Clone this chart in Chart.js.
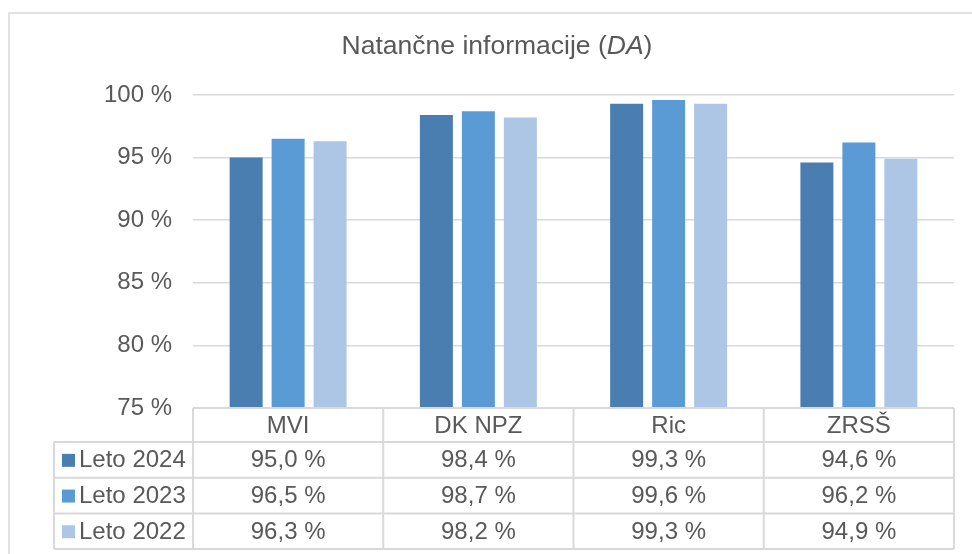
<!DOCTYPE html>
<html>
<head>
<meta charset="utf-8">
<script src="https://cdn.jsdelivr.net/npm/chart.js@4.4.1/dist/chart.umd.min.js"></script>
<style>
html,body{margin:0;padding:0;background:#fff;}
#wrap{position:relative;width:972px;height:554px;}
canvas{display:block;}
</style>
</head>
<body>
<div id="wrap"><canvas id="c" width="972" height="554"></canvas></div>
<script>
const categories = ['MVI', 'DK NPZ', 'Ric', 'ZRSŠ'];
const seriesNames = ['Leto 2024', 'Leto 2023', 'Leto 2022'];
const values2024 = [95.0, 98.4, 99.3, 94.6];
const values2023 = [96.5, 98.7, 99.6, 96.2];
const values2022 = [96.3, 98.2, 99.3, 94.9];
const seriesColors = ['#4a7eb0', '#5b9bd5', '#adc6e5'];
const yMin = 75, yMax = 100, yStep = 5;
const titleParts = [['Natančne informacije (', false], ['DA', true], [')', false]];

const FONT = '"Liberation Sans", Arial, sans-serif';
const TXT = '#595959';
const LINE = '#d9d9d9';
const seriesValues = [values2024, values2023, values2022];
const fmt = v => v.toFixed(1).replace('.', ',') + ' %';

const tablePlugin = {
  id: 'tablePlugin',
  beforeDraw(chart) {
    const ctx = chart.ctx;
    ctx.save();
    ctx.fillStyle = '#fff';
    ctx.fillRect(0, 0, chart.width, chart.height);
    ctx.strokeStyle = LINE;
    ctx.lineWidth = 1.5;
    ctx.strokeRect(9, 13, chart.width + 20, chart.height + 20);
    // title
    ctx.fillStyle = TXT;
    ctx.textBaseline = 'middle';
    let total = 0;
    titleParts.forEach(([t, it]) => {
      ctx.font = (it ? 'italic ' : '') + '26.5px ' + FONT;
      total += ctx.measureText(t).width;
    });
    let x = 497 - total / 2;
    ctx.textAlign = 'left';
    titleParts.forEach(([t, it]) => {
      ctx.font = (it ? 'italic ' : '') + '26.5px ' + FONT;
      ctx.fillText(t, x, 47);
      x += ctx.measureText(t).width;
    });
    ctx.restore();
  },
  afterDraw(chart) {
    const ctx = chart.ctx;
    const xs = chart.scales.x;
    const area = chart.chartArea;
    const n = categories.length;
    const cw = (area.right - area.left) / n;
    const top = area.bottom;
    const headerH = 34;
    const rowH = 35.7;
    const legLeft = 54;
    ctx.save();
    ctx.strokeStyle = LINE;
    ctx.lineWidth = 2;
    ctx.beginPath();
    // header top line
    ctx.moveTo(area.left, top); ctx.lineTo(area.right, top);
    // row lines
    for (let r = 0; r <= seriesNames.length; r++) {
      const y = top + headerH + r * rowH;
      ctx.moveTo(legLeft, y); ctx.lineTo(area.right, y);
    }
    const bottom = top + headerH + seriesNames.length * rowH;
    for (let i = 0; i <= n; i++) {
      const vx = area.left + i * cw;
      ctx.moveTo(vx, top); ctx.lineTo(vx, bottom);
    }
    ctx.moveTo(legLeft, top + headerH); ctx.lineTo(legLeft, bottom);
    ctx.stroke();

    ctx.fillStyle = TXT;
    ctx.font = '24px ' + FONT;
    ctx.textAlign = 'center';
    ctx.textBaseline = 'middle';
    categories.forEach((c, i) => {
      ctx.fillText(c, xs.getPixelForValue(i), top + headerH / 2 + 1);
    });
    seriesNames.forEach((s, r) => {
      const cy = top + headerH + r * rowH + rowH / 2 + 1;
      ctx.fillStyle = seriesColors[r];
      ctx.fillRect(62, cy - 7, 13, 13);
      ctx.fillStyle = TXT;
      ctx.textAlign = 'left';
      ctx.fillText(s, 79, cy);
      ctx.textAlign = 'center';
      seriesValues[r].forEach((v, i) => {
        ctx.fillText(fmt(v), xs.getPixelForValue(i), cy);
      });
    });
    ctx.restore();
  }
};

new Chart(document.getElementById('c'), {
  type: 'bar',
  data: {
    labels: categories,
    datasets: seriesNames.map((name, i) => ({
      label: name,
      data: seriesValues[i],
      backgroundColor: seriesColors[i],
      borderWidth: 0,
      categoryPercentage: 0.662,
      barPercentage: 0.786
    }))
  },
  options: {
    responsive: false,
    animation: false,
    devicePixelRatio: 1,
    layout: { padding: { top: 95, right: 18, bottom: 146, left: 0 } },
    plugins: { legend: { display: false }, title: { display: false }, tooltip: { enabled: false } },
    scales: {
      x: {
        ticks: { display: false },
        grid: { display: false, drawTicks: false },
        border: { display: false }
      },
      y: {
        min: yMin, max: yMax,
        afterFit(scale) { scale.width = 193; },
        ticks: {
          stepSize: yStep,
          padding: 21,
          color: TXT,
          font: { size: 24, family: FONT },
          callback: v => v + ' %'
        },
        grid: { color: LINE, lineWidth: 1.5, drawTicks: false },
        border: { display: false }
      }
    }
  },
  plugins: [tablePlugin]
});
</script>
</body>
</html>
